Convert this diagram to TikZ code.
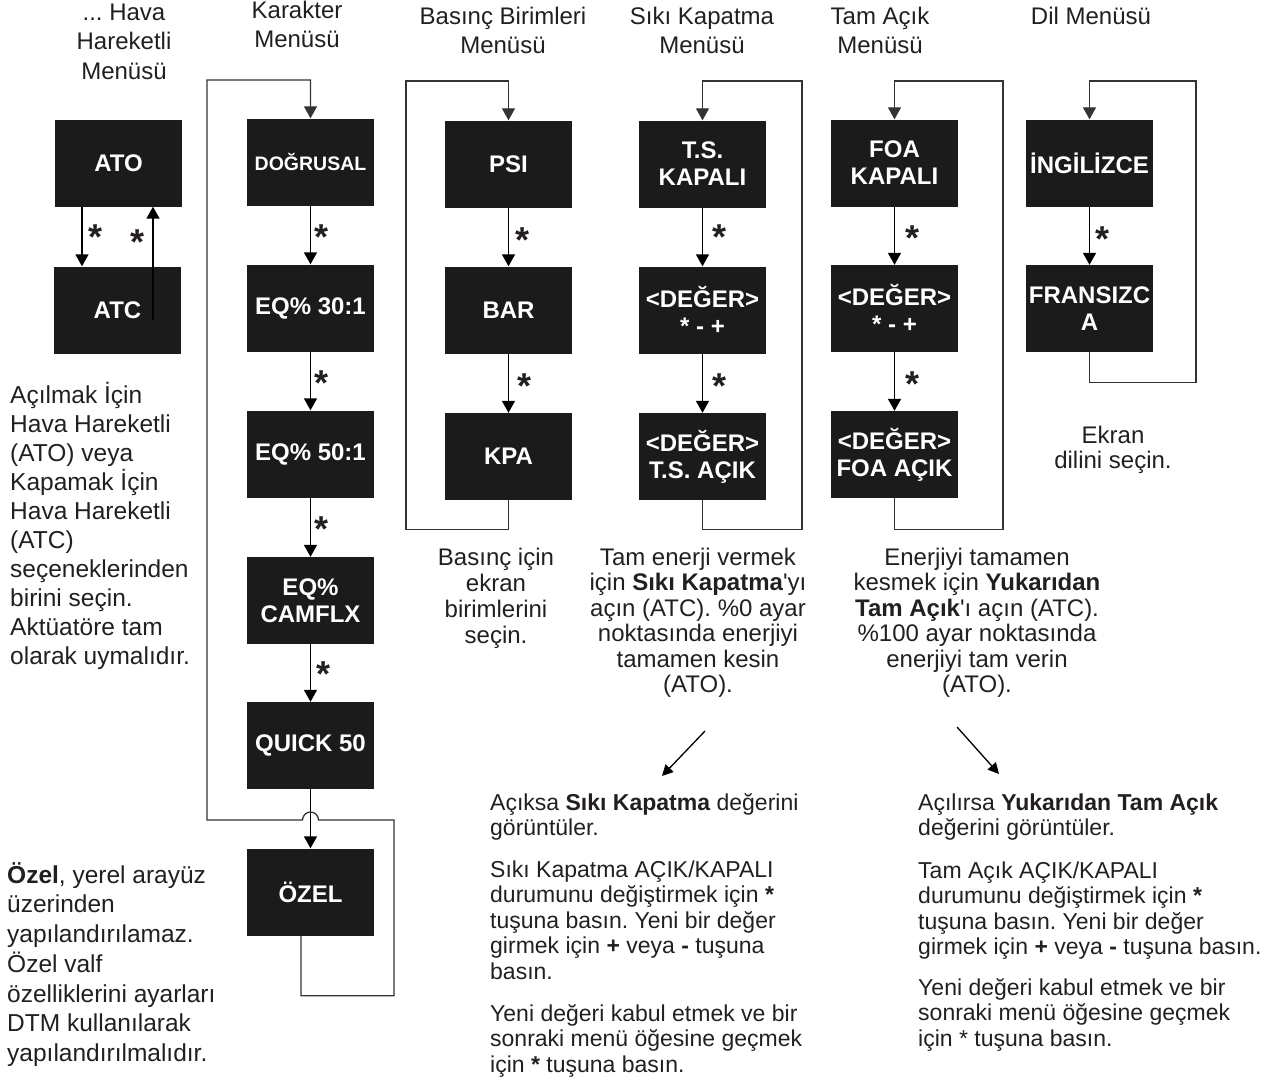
\documentclass[tikz,border=0pt]{standalone}
\usepackage{fontspec}
\setmainfont{Liberation Sans}
\usetikzlibrary{arrows.meta}
\definecolor{ink}{HTML}{231F20}
\definecolor{panel}{HTML}{1B1B1B}
\newcommand{\fstrut}{\rule{0pt}{24pt}}
\newcommand{\apos}{\textquotesingle}
\frenchspacing
\begin{document}
\begin{tikzpicture}[x=1pt,y=-1pt,
  menubox/.style={fill=panel, text=white, minimum width=127pt, minimum height=87pt,
    inner sep=0pt, align=center, font=\bfseries\fontsize{24}{27}\selectfont},
  tip/.style={-{Triangle[width=13pt,length=12pt]}},
  flow/.style={tip, draw=black, line width=1.6pt},
  loopline/.style={draw=black!80, line width=1.3pt},
  star/.style={anchor=base, yshift=-20pt, inner sep=0pt, text=ink,
    font=\bfseries\fontsize{36}{36}\selectfont},
  title/.style={anchor=north, inner sep=0pt, align=center, text=ink,
    font=\fontsize{24}{29.5}\selectfont},
  note/.style={anchor=north, inner sep=0pt, align=center, text=ink,
    font=\fontsize{24}{25.5}\selectfont},
  sidenote/.style={anchor=north west, inner sep=0pt, align=left, text=ink,
    font=\fontsize{24.5}{29}\selectfont},
  detail/.style={anchor=north west, inner sep=0pt, align=left, text=ink,
    font=\fontsize{23}{25.5}\selectfont},
  pointer/.style={-{Triangle[width=11pt,length=11pt]}, draw=black, line width=1.3pt}]
\useasboundingbox (0,0) rectangle (1265,1085);

% column titles (top of node = first baseline - 24)
\node[title] (t1) at (124,-4) {\fstrut... Hava\\Hareketli\\Menüsü};
\node[title] (t2) at (297,-6) {\fstrut Karakter\\Menüsü};
\node[title] (t3) at (503,0) {\fstrut Basınç Birimleri\\Menüsü};
\node[title] (t4) at (702,0) {\fstrut Sıkı Kapatma\\Menüsü};
\node[title] (t5) at (880,0) {\fstrut Tam Açık\\Menüsü};
\node[title] (t6) at (1091,0) {\fstrut Dil Menüsü};

% air action
\node[menubox] (ato) at (118.5,163) {ATO};
\node[menubox] (atc) at (117.5,310) {ATC};

% characterization
\node[menubox] (dog) at (310.5,162) {\fontsize{19.5}{22}\selectfont DOĞRUSAL};
\node[menubox] (eq30) at (310.5,308) {EQ\% 30:1};
\node[menubox] (eq50) at (310.5,454) {EQ\% 50:1};
\node[menubox] (cam) at (310.5,600.5) {EQ\%\\CAMFLX};
\node[menubox] (quick) at (310.5,745.5) {QUICK 50};
\node[menubox] (ozel) at (310.5,892) {ÖZEL};

% pressure units
\node[menubox] (psi) at (508.5,164) {PSI};
\node[menubox] (bar) at (508.5,310) {BAR};
\node[menubox] (kpa) at (508.5,456.5) {KPA};

% tight shutoff
\node[menubox] (tsoff) at (702.5,164) {T.S.\\KAPALI};
\node[menubox] (tsval) at (702.5,310) {<DEĞER>\\* - +};
\node[menubox] (tson) at (702.5,456.5) {<DEĞER>\\T.S. AÇIK};

% full open
\node[menubox] (foaoff) at (894.5,163) {FOA\\KAPALI};
\node[menubox] (foaval) at (894.5,308.5) {<DEĞER>\\* - +};
\node[menubox] (foaon) at (894.5,454.5) {<DEĞER>\\FOA AÇIK};

% language
\node[menubox] (ing) at (1089.5,163) {İNGİLİZCE};
\node[menubox] (fra) at (1089.5,308.5) {FRANSIZC\\A};

% air action toggles
\coordinate (dnx) at (82,0);
\coordinate (upstart) at (153,320);
\draw[flow] (ato.south -| dnx) -- (atc.north -| dnx);
\draw[flow] (upstart) -- (ato.south -| upstart);
\node[star] (s1) at (96,229) {*};
\node[star] (s2) at (138,234) {*};

% characterization chain
\draw[flow] (dog) -- (eq30);
\draw[flow] (eq30) -- (eq50);
\draw[flow] (eq50) -- (cam);
\draw[flow] (cam) -- (quick);
\draw[flow] (quick) -- (ozel);
\node[star] (s3) at (321,229) {*};
\node[star] (s4) at (321,375) {*};
\node[star] (s5) at (321,521) {*};
\node[star] (s6) at (323,666) {*};
\coordinate (ozx) at (301,0);
\draw[loopline, tip] (ozel.south -| ozx) -- ++(0,60) -| (394,820) -- (318.5,820)
  arc[start angle=0, end angle=-180, radius=8] -- (207,820) -- (207,80) -| (dog.north);

% pressure chain
\draw[flow] (psi) -- (bar);
\draw[flow] (bar) -- (kpa);
\node[star] (s7) at (522,232) {*};
\node[star] (s8) at (524,378) {*};
\draw[loopline, tip] (kpa.south) -- ++(0,29) -| (406,81) -| (psi.north);

% tight shutoff chain
\draw[flow] (tsoff) -- (tsval);
\draw[flow] (tsval) -- (tson);
\node[star] (s9) at (719,229) {*};
\node[star] (s10) at (719,378) {*};
\draw[loopline, tip] (tson.south) -- ++(0,29) -| (802,81) -| (tsoff.north);

% full open chain
\draw[flow] (foaoff) -- (foaval);
\draw[flow] (foaval) -- (foaon);
\node[star] (s11) at (912,230) {*};
\node[star] (s12) at (912,376) {*};
\draw[loopline, tip] (foaon.south) -- ++(0,31) -| (1003,81) -| (foaoff.north);

% language chain
\draw[flow] (ing) -- (fra);
\node[star] (s13) at (1102,231) {*};
\draw[loopline, tip] (fra.south) -- ++(0,30) -| (1196,81) -| (ing.north);

% explanations
\node[sidenote] (n1) at (10,379) {\fstrut Açılmak İçin\\Hava Hareketli\\(ATO) veya\\Kapamak İçin\\Hava Hareketli\\(ATC)\\seçeneklerinden\\birini seçin.\\Aktüatöre tam\\olarak uymalıdır.};
\node[sidenote, font=\fontsize{24.5}{29.7}\selectfont] (n2) at (7,859) {\fstrut\textbf{Özel}, yerel arayüz\\üzerinden\\yapılandırılamaz.\\Özel valf\\özelliklerini ayarları\\DTM kullanılarak\\yapılandırılmalıdır.};
\node[note, font=\fontsize{24}{26}\selectfont] (n3) at (496,541) {\fstrut Basınç için\\ekran\\birimlerini\\seçin.};
\node[note] (n4) at (698,541) {\fstrut Tam enerji vermek\\için \textbf{Sıkı Kapatma}\apos yı\\açın (ATC). \%0 ayar\\noktasında enerjiyi\\tamamen kesin\\(ATO).};
\node[note] (n5) at (977,541) {\fstrut Enerjiyi tamamen\\kesmek için \textbf{Yukarıdan}\\\textbf{Tam Açık}\apos ı açın (ATC).\\\%100 ayar noktasında\\enerjiyi tam verin\\(ATO).};
\node[note, font=\fontsize{24}{25}\selectfont] (n6) at (1113,419) {\fstrut Ekran\\dilini seçin.};

\node[detail] (d1) at (490,786) {\fstrut Açıksa \textbf{Sıkı Kapatma} değerini\\görüntüler.};
\node[detail] (d2) at (490,853) {\fstrut Sıkı Kapatma AÇIK/KAPALI\\durumunu değiştirmek için \textbf{*}\\tuşuna basın. Yeni bir değer\\girmek için \textbf{+} veya \textbf{-} tuşuna\\basın.};
\node[detail] (d3) at (490,997) {\fstrut Yeni değeri kabul etmek ve bir\\sonraki menü öğesine geçmek\\için \textbf{*} tuşuna basın.};

\node[detail] (d4) at (918,786) {\fstrut Açılırsa \textbf{Yukarıdan Tam Açık}\\değerini görüntüler.};
\node[detail] (d5) at (918,854) {\fstrut Tam Açık AÇIK/KAPALI\\durumunu değiştirmek için \textbf{*}\\tuşuna basın. Yeni bir değer\\girmek için \textbf{+} veya \textbf{-} tuşuna basın.};
\node[detail] (d6) at (918,971) {\fstrut Yeni değeri kabul etmek ve bir\\sonraki menü öğesine geçmek\\için * tuşuna basın.};

% pointers from the summaries to the details
\coordinate (p1a) at (705,731);
\coordinate (p1b) at (662,776);
\coordinate (p2a) at (957,727);
\coordinate (p2b) at (999,774);
\draw[pointer] (p1a) -- (p1b);
\draw[pointer] (p2a) -- (p2b);
\end{tikzpicture}
\end{document}
